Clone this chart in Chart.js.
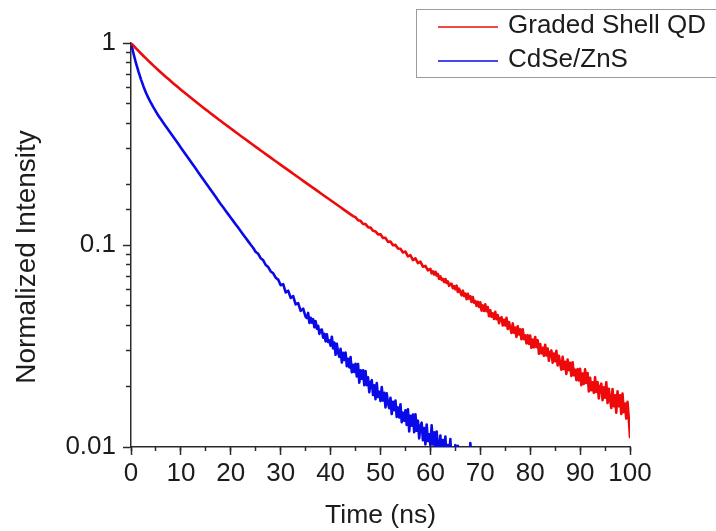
<!DOCTYPE html>
<html>
<head>
<meta charset="utf-8">
<title>PL decay</title>
<script src="https://cdn.jsdelivr.net/npm/chart.js@4.4.1/dist/chart.umd.min.js"></script>
<style>
  html, body { margin: 0; padding: 0; background: #ffffff; }
  #wrap { width: 716px; height: 531px; }
</style>
</head>
<body>
<div id="wrap"><canvas id="decay" width="716" height="531"></canvas></div>
<script>
// Graded-shell QDs: time bins (ns) and normalized PL intensity
const gradedShellTime = [
  0, 0.5, 1, 1.5, 2, 2.5, 3, 3.5, 4, 4.5,
  5, 5.5, 6, 6.5, 7, 7.5, 8, 8.5, 9, 9.5,
  10, 10.5, 11, 11.5, 12, 12.5, 13, 13.5, 14, 14.5,
  15, 15.5, 16, 16.5, 17, 17.5, 18, 18.5, 19, 19.5,
  20, 20.5, 21, 21.5, 22, 22.5, 23, 23.5, 24, 24.5,
  25, 25.5, 26, 26.5, 27, 27.5, 28, 28.5, 29, 29.5,
  30, 30.5, 31, 31.5, 32, 32.5, 33, 33.5, 34, 34.5,
  35, 35.5, 36, 36.5, 37, 37.5, 38, 38.5, 39, 39.5,
  40, 40.5, 41, 41.5, 42, 42.5, 43, 43.5, 44, 44.5,
  45, 45.5, 46, 46.5, 47, 47.5, 48, 48.5, 49, 49.5,
  50, 50.5, 51, 51.5, 52, 52.5, 53, 53.5, 54, 54.5,
  55, 55.5, 56, 56.5, 57, 57.5, 58, 58.5, 59, 59.5,
  60, 60.25, 60.5, 60.75, 61, 61.25, 61.5, 61.75,
  62, 62.25, 62.5, 62.75, 63, 63.25, 63.5, 63.75,
  64, 64.25, 64.5, 64.75, 65, 65.25, 65.5, 65.75,
  66, 66.25, 66.5, 66.75, 67, 67.25, 67.5, 67.75,
  68, 68.25, 68.5, 68.75, 69, 69.25, 69.5, 69.75,
  70, 70.25, 70.5, 70.75, 71, 71.25, 71.5, 71.75,
  72, 72.25, 72.5, 72.75, 73, 73.25, 73.5, 73.75,
  74, 74.25, 74.5, 74.75, 75, 75.25, 75.5, 75.75,
  76, 76.25, 76.5, 76.75, 77, 77.25, 77.5, 77.75,
  78, 78.25, 78.5, 78.75, 79, 79.25, 79.5, 79.75,
  80, 80.25, 80.5, 80.75, 81, 81.25, 81.5, 81.75,
  82, 82.25, 82.5, 82.75, 83, 83.25, 83.5, 83.75,
  84, 84.25, 84.5, 84.75, 85, 85.25, 85.5, 85.75,
  86, 86.25, 86.5, 86.75, 87, 87.25, 87.5, 87.75,
  88, 88.25, 88.5, 88.75, 89, 89.25, 89.5, 89.75,
  90, 90.25, 90.5, 90.75, 91, 91.25, 91.5, 91.75,
  92, 92.25, 92.5, 92.75, 93, 93.25, 93.5, 93.75,
  94, 94.25, 94.5, 94.75, 95, 95.25, 95.5, 95.75,
  96, 96.25, 96.5, 96.75, 97, 97.25, 97.5, 97.75,
  98, 98.25, 98.5, 98.75, 99, 99.25, 99.5, 99.75,
  100
];
const gradedShell = [
  1.000, 0.9698, 0.9411, 0.9137, 0.8875, 0.8626, 0.8387, 0.8158, 0.7939, 0.7729,
  0.7528, 0.7334, 0.7147, 0.6967, 0.6794, 0.6627, 0.6466, 0.6310, 0.6160, 0.6014,
  0.5874, 0.5738, 0.5605, 0.5478, 0.5353, 0.5233, 0.5115, 0.5002, 0.4891, 0.4784,
  0.4679, 0.4578, 0.4478, 0.4382, 0.4288, 0.4197, 0.4107, 0.4020, 0.3935, 0.3853,
  0.3772, 0.3693, 0.3617, 0.3541, 0.3467, 0.3396, 0.3326, 0.3258, 0.3190, 0.3125,
  0.3061, 0.2999, 0.2938, 0.2878, 0.2819, 0.2762, 0.2706, 0.2651, 0.2598, 0.2545,
  0.2494, 0.2444, 0.2395, 0.2347, 0.2300, 0.2254, 0.2208, 0.2164, 0.2121, 0.2078,
  0.2037, 0.1996, 0.1956, 0.1917, 0.1879, 0.1842, 0.1805, 0.1769, 0.1733, 0.1699,
  0.1665, 0.1632, 0.1600, 0.1568, 0.1537, 0.1506, 0.1476, 0.1447, 0.1418, 0.1390,
  0.1373, 0.1325, 0.1317, 0.1271, 0.1268, 0.1225, 0.1219, 0.1176, 0.1167, 0.1129,
  0.1130, 0.1084, 0.1084, 0.1036, 0.1040, 0.0998, 0.1001, 0.0961, 0.0958, 0.0919,
  0.0928, 0.0878, 0.0890, 0.0842, 0.0859, 0.0814, 0.0827, 0.0781, 0.0788, 0.0749,
  0.07612, 0.07237, 0.07405, 0.07147, 0.07370, 0.07060, 0.07187, 0.06799,
  0.06992, 0.06715, 0.06802, 0.06565, 0.06787, 0.06485, 0.06601, 0.06276,
  0.06422, 0.06424, 0.06107, 0.06265, 0.06036, 0.06291, 0.05851, 0.06077,
  0.05842, 0.05636, 0.05942, 0.05587, 0.05739, 0.05396, 0.05730, 0.05428,
  0.05575, 0.05223, 0.05526, 0.05176, 0.05279, 0.05000, 0.05232, 0.04937,
  0.05206, 0.04735, 0.05022, 0.04716, 0.05082, 0.04697, 0.04929, 0.04436,
  0.04755, 0.04418, 0.04587, 0.04307, 0.04667, 0.04291, 0.04503, 0.04096,
  0.04343, 0.04393, 0.03996, 0.04260, 0.03997, 0.04359, 0.03838, 0.04157,
  0.03894, 0.03673, 0.04090, 0.03676, 0.03900, 0.03505, 0.03957, 0.03607,
  0.03825, 0.03415, 0.03828, 0.03417, 0.03576, 0.03258, 0.03578, 0.03239,
  0.03560, 0.03099, 0.03407, 0.03112, 0.03504, 0.03124, 0.03380, 0.02895,
  0.03235, 0.02907, 0.03095, 0.02827, 0.03209, 0.02838, 0.03071, 0.02673,
  0.02938, 0.03005, 0.02615, 0.02898, 0.02656, 0.02992, 0.02533, 0.02827,
  0.02600, 0.02413, 0.02795, 0.02432, 0.02640, 0.02298, 0.02709, 0.02402,
  0.02608, 0.02249, 0.02628, 0.02266, 0.02415, 0.02141, 0.02434, 0.02138,
  0.02438, 0.02023, 0.02313, 0.02051, 0.02423, 0.02077, 0.02323, 0.01885,
  0.02202, 0.01910, 0.02089, 0.01852, 0.02211, 0.01875, 0.02097, 0.01740,
  0.01989, 0.02058, 0.01707, 0.01973, 0.01753, 0.02093, 0.01650, 0.01944,
  0.01729, 0.01559, 0.01937, 0.01591, 0.01801, 0.01479, 0.01887, 0.01591,
  0.01801, 0.01459, 0.01838, 0.01489, 0.01640, 0.01383, 0.01674, 0.01394,
  0.0112
];

// CdSe/ZnS core/shell QDs: time bins (ns) and normalized PL intensity
const cdseZnsTime = [
  0, 0.5, 1, 1.5, 2, 2.5, 3, 3.5, 4, 4.5,
  5, 5.5, 6, 6.5, 7, 7.5, 8, 8.5, 9, 9.5,
  10, 10.5, 11, 11.5, 12, 12.5, 13, 13.5, 14, 14.5,
  15, 15.5, 16, 16.5, 17, 17.5, 18, 18.5, 19, 19.5,
  20, 20.5, 21, 21.5, 22, 22.5, 23, 23.5, 24, 24.5,
  25, 25.5, 26, 26.5, 27, 27.5, 28, 28.5, 29, 29.5,
  30, 30.5, 31, 31.5, 32, 32.5, 33, 33.5, 34, 34.5,
  35,
  35.25, 35.5, 35.75, 36, 36.25, 36.5, 36.75, 37,
  37.25, 37.5, 37.75, 38, 38.25, 38.5, 38.75, 39,
  39.25, 39.5, 39.75, 40, 40.25, 40.5, 40.75, 41,
  41.25, 41.5, 41.75, 42, 42.25, 42.5, 42.75, 43,
  43.25, 43.5, 43.75, 44, 44.25, 44.5, 44.75, 45,
  45.25, 45.5, 45.75, 46, 46.25, 46.5, 46.75, 47,
  47.25, 47.5, 47.75, 48, 48.25, 48.5, 48.75, 49,
  49.25, 49.5, 49.75, 50, 50.25, 50.5, 50.75, 51,
  51.25, 51.5, 51.75, 52, 52.25, 52.5, 52.75, 53,
  53.25, 53.5, 53.75, 54, 54.25, 54.5, 54.75, 55,
  55.25, 55.5, 55.75, 56, 56.25, 56.5, 56.75, 57,
  57.25, 57.5, 57.75, 58, 58.25, 58.5, 58.75, 59,
  59.25, 59.5, 59.75, 60, 60.25, 60.5, 60.75, 61,
  61.25, 61.5, 61.75, 62, 62.25, 62.5, 62.75, 63,
  63.25, 63.5, 63.75, 64, 64.25, 64.5, 64.75, 65,
  65.25, 65.5, 65.75, 66, 66.25, 66.5, 66.75, 67,
  67.25, 67.5, 67.75, 68, 68.25, 68.5, 68.75, 69,
  69.25, 69.5, 69.75, 70
];
const cdseZns = [
  1.000, 0.8872, 0.7943, 0.7211, 0.6607, 0.6095, 0.5675, 0.5333, 0.5047, 0.4797,
  0.4571, 0.4365, 0.4188, 0.4023, 0.3864, 0.3711, 0.3565, 0.3424, 0.3289, 0.3159,
  0.3034, 0.2914, 0.2799, 0.2689, 0.2582, 0.2480, 0.2382, 0.2288, 0.2198, 0.2111,
  0.2028, 0.1948, 0.1871, 0.1797, 0.1726, 0.1658, 0.1592, 0.1532, 0.1474, 0.1418,
  0.1365, 0.1313, 0.1263, 0.1216, 0.1170, 0.1125, 0.1083, 0.1042, 0.1002, 0.0966,
  0.0924, 0.0905, 0.0859, 0.0840, 0.0796, 0.0778, 0.0740, 0.0724, 0.0689, 0.0674,
  0.0632, 0.0640, 0.0582, 0.0594, 0.0547, 0.0559, 0.0508, 0.0516, 0.0472, 0.0484,
  0.0441,
  0.04348, 0.04611, 0.04116, 0.04365, 0.04125, 0.04292, 0.03914, 0.04197,
  0.03847, 0.03982, 0.03631, 0.03798, 0.03814, 0.03478, 0.03637, 0.03334,
  0.03612, 0.03311, 0.03376, 0.03175, 0.03516, 0.03080, 0.03293, 0.02861,
  0.03242, 0.02936, 0.02795, 0.03064, 0.02621, 0.02925, 0.02696, 0.02934,
  0.02511, 0.02732, 0.02478, 0.02787, 0.02345, 0.02552, 0.02352, 0.02582,
  0.02237, 0.02574, 0.02083, 0.02397, 0.02173, 0.02399, 0.02024, 0.02377,
  0.02025, 0.02213, 0.01867, 0.02082, 0.02141, 0.01809, 0.02021, 0.01726,
  0.02072, 0.01770, 0.01878, 0.01688, 0.01982, 0.01698, 0.01853, 0.01571,
  0.01842, 0.01642, 0.01556, 0.01753, 0.01456, 0.01673, 0.01522, 0.01696,
  0.01409, 0.01570, 0.01400, 0.01626, 0.01326, 0.01479, 0.01349, 0.01521,
  0.01285, 0.01536, 0.01194, 0.01428, 0.01275, 0.01449, 0.01184, 0.01453,
  0.01203, 0.01350, 0.01103, 0.01269, 0.01320, 0.01080, 0.01242, 0.01029,
  0.01293, 0.01071, 0.01157, 0.01020, 0.01282, 0.01029, 0.01183, 0.00935,
  0.01194, 0.01017, 0.00948, 0.01139, 0.00875, 0.01083, 0.00951, 0.01127,
  0.00864, 0.01023, 0.00872, 0.01096, 0.00817, 0.00967, 0.00850, 0.01021,
  0.00820, 0.01015, 0.00756, 0.00937, 0.00822, 0.00959, 0.00759, 0.00969,
  0.00777, 0.00894, 0.00706, 0.01045, 0.00879, 0.00696, 0.00824, 0.00661,
  0.00870, 0.00698, 0.00767, 0.00664
];

const seriesNames = ['Graded Shell QD', 'CdSe/ZnS'];
const seriesColors = ['rgb(238, 10, 10)', 'rgb(10, 10, 232)'];

// Axis ranges and tick labels
const xRange = [0, 100];
const xMajorStep = 10;
const xMinorStep = 5;
const yRange = [0.01, 1];
const yMajorValues = [1, 0.1, 0.01];
const yMajorLabels = ['1', '0.1', '0.01'];
const xTitle = 'Time (ns)';
const yTitle = 'Normalized Intensity';

const FONT = "'Liberation Sans', Arial, Helvetica, sans-serif";
const INK = '#1c1c1c';
const AXIS = '#2a2a2a';
const NONE = 'rgba(0,0,0,0)';

const decadeIndex = v => yMajorValues.findIndex(m => Math.abs(m - v) / m < 1e-6);
const isDecade = v => decadeIndex(v) >= 0;
const toPoints = (ts, ys) => ys.map((y, i) => ({ x: ts[i], y }));

// Axis titles and the framed legend box in the upper right
const decorations = {
  id: 'decorations',
  afterDraw(chart) {
    const { ctx, chartArea: a } = chart;
    ctx.save();
    ctx.fillStyle = INK;
    ctx.textAlign = 'center';
    ctx.textBaseline = 'middle';
    ctx.font = `26.5px ${FONT}`;
    ctx.fillText(xTitle, (a.left + a.right) / 2, 516);
    ctx.translate(27, 257);
    ctx.rotate(-Math.PI / 2);
    ctx.font = `28px ${FONT}`;
    ctx.fillText(yTitle, 0, 0);
    ctx.restore();

    ctx.save();
    ctx.strokeStyle = '#9c9c9c';
    ctx.lineWidth = 1;
    ctx.strokeRect(416.5, 9.5, 330, 68);
    chart.data.datasets.forEach((ds, i) => {
      const y = 27 + i * 34;
      ctx.strokeStyle = ds.borderColor;
      ctx.lineWidth = 1.6;
      ctx.beginPath();
      ctx.moveTo(438, y);
      ctx.lineTo(498, y);
      ctx.stroke();
      ctx.fillStyle = INK;
      ctx.font = `26px ${FONT}`;
      ctx.textAlign = 'left';
      ctx.textBaseline = 'middle';
      ctx.fillText(ds.label, 508, y - 1);
    });
    ctx.restore();
  }
};

const lineStyle = color => ({
  borderColor: color,
  backgroundColor: color,
  borderWidth: 2.6,
  borderJoinStyle: 'round',
  borderCapStyle: 'round',
  pointRadius: 0,
  pointHoverRadius: 0,
  tension: 0,
  fill: false
});

new Chart(document.getElementById('decay'), {
  type: 'line',
  data: {
    datasets: [
      { label: seriesNames[0], data: toPoints(gradedShellTime, gradedShell), ...lineStyle(seriesColors[0]) },
      { label: seriesNames[1], data: toPoints(cdseZnsTime, cdseZns), ...lineStyle(seriesColors[1]) }
    ]
  },
  options: {
    responsive: false,
    animation: false,
    events: [],
    layout: { padding: { top: 43, right: 86, bottom: 0, left: 0 } },
    plugins: { legend: { display: false }, tooltip: { enabled: false }, title: { display: false } },
    scales: {
      x: {
        type: 'linear', position: 'bottom', min: xRange[0], max: xRange[1], weight: 1,
        ticks: { stepSize: xMajorStep, color: INK, font: { family: FONT, size: 26 }, padding: 3, maxRotation: 0, autoSkip: false },
        grid: { drawOnChartArea: false, tickLength: 8, tickWidth: 1.5, tickColor: AXIS },
        border: { display: true, color: AXIS, width: 1.5 },
        afterFit: s => { s.height = 84; }
      },
      xMinor: {
        type: 'linear', position: 'bottom', min: xRange[0], max: xRange[1], weight: 0,
        ticks: { stepSize: xMinorStep, display: false },
        grid: { drawOnChartArea: false, tickLength: 4, tickWidth: 1.5, tickColor: AXIS },
        border: { display: false },
        afterFit: s => { s.height = 0; }
      },
      y: {
        type: 'logarithmic', position: 'left', min: yRange[0], max: yRange[1], weight: 1,
        ticks: {
          autoSkip: false, color: INK, font: { family: FONT, size: 26 }, padding: 7,
          callback: v => { const i = decadeIndex(v); return i >= 0 ? yMajorLabels[i] : ''; }
        },
        grid: { drawOnChartArea: false, tickLength: 8, tickWidth: 1.5,
                tickColor: c => (c.tick && isDecade(c.tick.value)) ? AXIS : NONE },
        border: { display: true, color: AXIS, width: 1.5 },
        afterFit: s => { s.width = 131; }
      },
      yMinor: {
        type: 'logarithmic', position: 'left', min: yRange[0], max: yRange[1], weight: 0,
        ticks: { display: false, autoSkip: false },
        grid: { drawOnChartArea: false, tickLength: 5, tickWidth: 1.5,
                tickColor: c => (c.tick && !isDecade(c.tick.value)) ? AXIS : NONE },
        border: { display: false },
        afterFit: s => { s.width = 0; }
      }
    }
  },
  plugins: [decorations]
});
</script>
</body>
</html>
